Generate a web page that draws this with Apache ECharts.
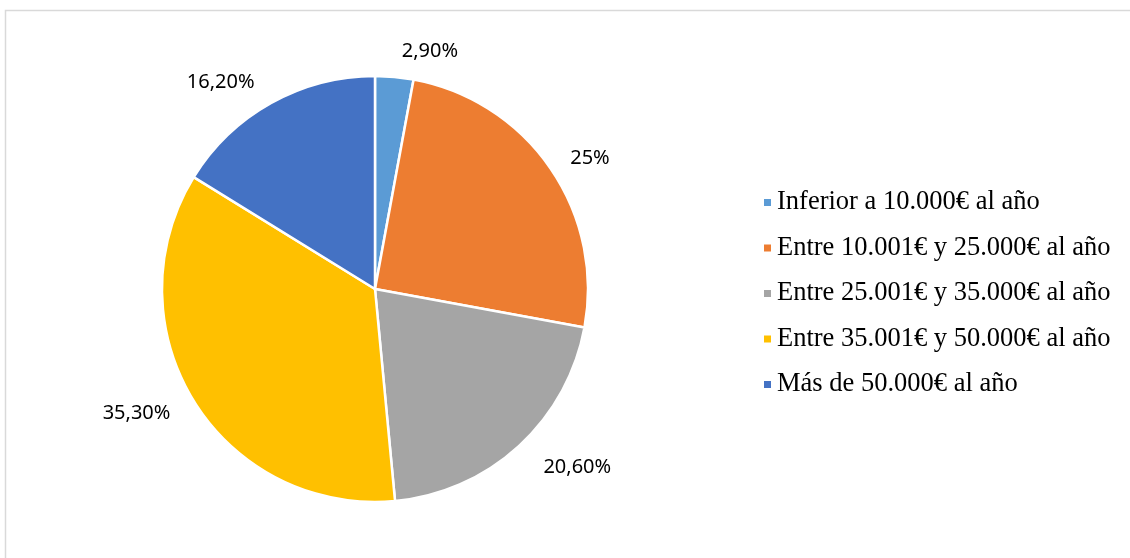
<!DOCTYPE html>
<html>
<head>
<meta charset="utf-8">
<script src="https://cdn.jsdelivr.net/npm/echarts@6/dist/echarts.min.js"></script>
<style>
  html, body { margin: 0; padding: 0; background: #fff; }
  #chart { width: 1130px; height: 558px; }
</style>
</head>
<body>
<div id="chart"></div>
<script>
// datos
var categorias = [
  'Inferior a 10.000€ al año',
  'Entre 10.001€ y 25.000€ al año',
  'Entre 25.001€ y 35.000€ al año',
  'Entre 35.001€ y 50.000€ al año',
  'Más de 50.000€ al año'
];
var valores = [2.9, 25, 20.6, 35.3, 16.2];
var etiquetas = ['2,90%', '25%', '20,60%', '35,30%', '16,20%'];
var colores = ['#5B9BD5', '#ED7D31', '#A5A5A5', '#FFC000', '#4472C4'];
// distancia de cada etiqueta al borde del sector
var distEtiqueta = [26, 18, 29, 22, 24];

var datos = [];
for (var i = 0; i < categorias.length; i++) {
  datos.push({
    name: categorias[i],
    value: valores[i],
    itemStyle: { color: colores[i] },
    labelLine: { length: distEtiqueta[i] }
  });
}

var myChart = echarts.init(document.getElementById('chart'));
myChart.setOption({
  backgroundColor: '#fff',
  animation: false,
  graphic: [{
    type: 'rect',
    shape: { x: 5.5, y: 10.5, width: 1200, height: 600 },
    style: { fill: 'none', stroke: '#d9d9d9', lineWidth: 1.5 },
    silent: true
  }],
  legend: {
    orient: 'vertical',
    left: 757,
    top: 184,
    icon: 'rect',
    itemWidth: 9,
    itemHeight: 9,
    itemGap: 18.5,
    data: categorias,
    textStyle: {
      fontFamily: '"Liberation Serif", "DejaVu Serif", serif',
      fontSize: 26.5,
      lineHeight: 26.5,
      color: '#000',
      padding: [0, 0, 0, 0]
    }
  },
  series: [{
    type: 'pie',
    center: [375, 289],
    radius: 213,
    startAngle: 90,
    clockwise: true,
    data: datos,
    itemStyle: { borderColor: '#fff', borderWidth: 2.5 },
    label: {
      show: true,
      position: 'outside',
      formatter: function (p) { return etiquetas[p.dataIndex]; },
      fontFamily: '"Noto Sans", sans-serif',
      fontSize: 20,
      color: '#000'
    },
    labelLine: { show: false, length: 18, length2: 0 },
    emphasis: { disabled: true }
  }]
});
</script>
</body>
</html>
